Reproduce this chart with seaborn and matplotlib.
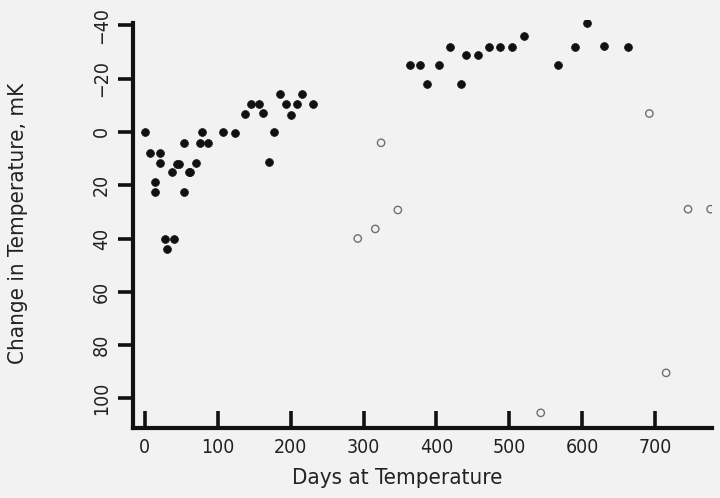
import matplotlib
matplotlib.use("Agg")
import matplotlib.pyplot as plt
import seaborn as sns
import pandas as pd

# Filled points (days, change in mK; positive = downward on inverted axis)
filled_days = [0, 7, 21, 21, 14, 14, 37, 44, 47, 53, 53, 60, 62, 70, 76, 78, 87,
               107, 123, 138, 145, 157, 162, 170, 177, 185, 193, 200, 208, 216, 231,
               28, 40, 30,
               363, 378, 387, 404, 418, 433, 441, 457, 472, 487, 503, 520,
               566, 590, 606, 630, 662]
filled_vals = [0, 8, 8, 11.6, 18.7, 22.5, 14.9, 12, 12, 4.1, 22.5, 15, 15, 11.6, 4.1, 0, 4.1,
               0, 0.3, -6.7, -10.6, -10.6, -6.9, 11.4, 0, -14.2, -10.6, -6.5, -10.6, -14.2, -10.6,
               40.3, 40.3, 44,
               -25, -25, -18, -25, -32, -18, -28.7, -28.7, -32, -32, -32, -35.9,
               -25.2, -31.8, -40.7, -32.2, -32]

open_days = [292, 316, 324, 347, 543, 692, 715, 745, 776]
open_vals = [40, 36.4, 4.1, 29.3, 105.4, -6.9, 90.4, 29, 29]

x_ticks = [0, 100, 200, 300, 400, 500, 600, 700]
y_ticks = [-40, -20, 0, 20, 40, 60, 80, 100]
y_tick_labels = ["\u221240", "\u221220", "0", "20", "40", "60", "80", "100"]

sns.set_theme(style="white")
plt.rcParams['font.family'] = ['DejaVu Sans']
plt.rcParams['font.stretch'] = 'condensed'
bg = "#f2f2f2"
tc = "#222222"

fig = plt.figure(figsize=(7.2, 4.98), dpi=100, facecolor=bg)
ax = fig.add_axes([0.185, 0.141, 0.804, 0.819])
ax.set_facecolor(bg)

df_f = pd.DataFrame({"days": filled_days, "val": filled_vals})
df_o = pd.DataFrame({"days": open_days, "val": open_vals})

sns.scatterplot(data=df_f, x="days", y="val", ax=ax, color="#111111", s=32,
                edgecolor="#111111", linewidth=0.5, zorder=3)
sns.scatterplot(data=df_o, x="days", y="val", ax=ax, facecolor="none", s=28,
                edgecolor="#707070", linewidth=1.0, zorder=3)

ax.set_xlim(-16, 778)
ax.set_ylim(111, -42)

ax.set_xticks(x_ticks)
ax.set_yticks(y_ticks)
ax.set_xticklabels([str(t) for t in x_ticks], fontsize=14, color=tc)
ax.set_yticklabels(y_tick_labels, fontsize=14, color=tc,
                   rotation=90, va="center")

ax.tick_params(axis="x", bottom=True, direction="in", length=12, width=2.6,
               color="#111111", pad=7)
ax.tick_params(axis="y", left=True, direction="out", length=11, width=2.6,
               color="#111111", pad=5)

for s in ["top", "right"]:
    ax.spines[s].set_visible(False)
for s in ["left", "bottom"]:
    ax.spines[s].set_linewidth(3)
    ax.spines[s].set_color("#111111")
ax.spines["left"].set_bounds(111, -40.8)

ax.set_xlabel("Days at Temperature", fontsize=16, color=tc, labelpad=8)
ax.xaxis.label.set_x(0.456)
ax.set_ylabel("Change in Temperature, mK", fontsize=16, color=tc, labelpad=46)

fig.savefig("out.png", dpi=100, facecolor=bg)
